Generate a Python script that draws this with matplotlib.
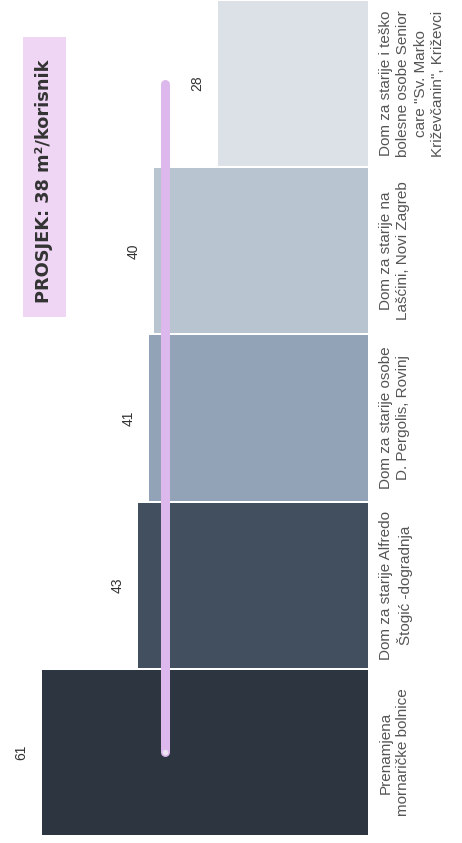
import matplotlib
matplotlib.use("Agg")
import matplotlib.pyplot as plt
from matplotlib.patches import Rectangle

categories = [
    "Prenamjena\nmornaričke bolnice",
    "Dom za starije Alfredo\nŠtogić -dogradnja",
    "Dom za starije osobe\nD. Pergolis, Rovinj",
    "Dom za starije na\nLašćini, Novi Zagreb",
    "Dom za starije i teško\nbolesne osobe Senior\ncare \"Sv. Marko\nKriževčanin\", Križevci",
]
values = [61, 43, 41, 40, 28]
average = 38
title_text = "PROSJEK: 38 m²/korisnik"
colors = ["#2d3540", "#424f5e", "#93a3b7", "#b8c4d0", "#dce1e7"]

plt.rcParams['font.family'] = ['Liberation Sans', 'DejaVu Sans']

W, H = 462, 843
fig = plt.figure(figsize=(W / 100, H / 100), dpi=100)
fig.patch.set_facecolor("white")

ax_left, ax_right = 0, 368
ax_bottom, ax_top = 7, 843
ax = fig.add_axes([ax_left / W, ax_bottom / H, (ax_right - ax_left) / W, (ax_top - ax_bottom) / H])
px_per_unit = 5.34
ax.set_xlim((ax_right - ax_left) / px_per_unit, 0)
ax.set_ylim(-0.5, len(values) - 0.5)
ax.axis("off")

ypos = list(range(len(values)))
ax.barh(ypos, values, height=0.988, color=colors, zorder=1)

# average line
ax.plot([average, average], [ypos[0], ypos[-1]], color="#dcb8ec", lw=6.5,
        solid_capstyle="round", zorder=3)
ax.plot([average], [ypos[0]], marker="o", ms=4, color="#efe4f6", mec="none", zorder=4)

# value labels
for y, v in zip(ypos, values):
    ax.annotate(str(v), xy=(v, y), xytext=(-15, 0), textcoords="offset points",
                rotation=90, ha="center", va="center", fontsize=10, color="#333333")

# category labels
for y, c in zip(ypos, categories):
    ax.annotate(c, xy=(0, y), xycoords="data", xytext=(8, 0), textcoords="offset points",
                rotation=90, ha="left", va="center", multialignment="center",
                fontsize=11, color="#555555", linespacing=1.3, annotation_clip=False)

# average box
bx0, bx1 = 23, 66
by0, by1 = H - 317, H - 37
fig.patches.append(Rectangle((bx0 / W, by0 / H), (bx1 - bx0) / W, (by1 - by0) / H,
                             transform=fig.transFigure, facecolor="#f0d6f5",
                             edgecolor="none", zorder=0))
fig.text(44 / W, (H - 181) / H, title_text, rotation=90,
         ha="center", va="center", fontsize=12.8, fontweight="bold", color="#333333",
         family=["DejaVu Sans"])

fig.savefig("out.png", dpi=100)
